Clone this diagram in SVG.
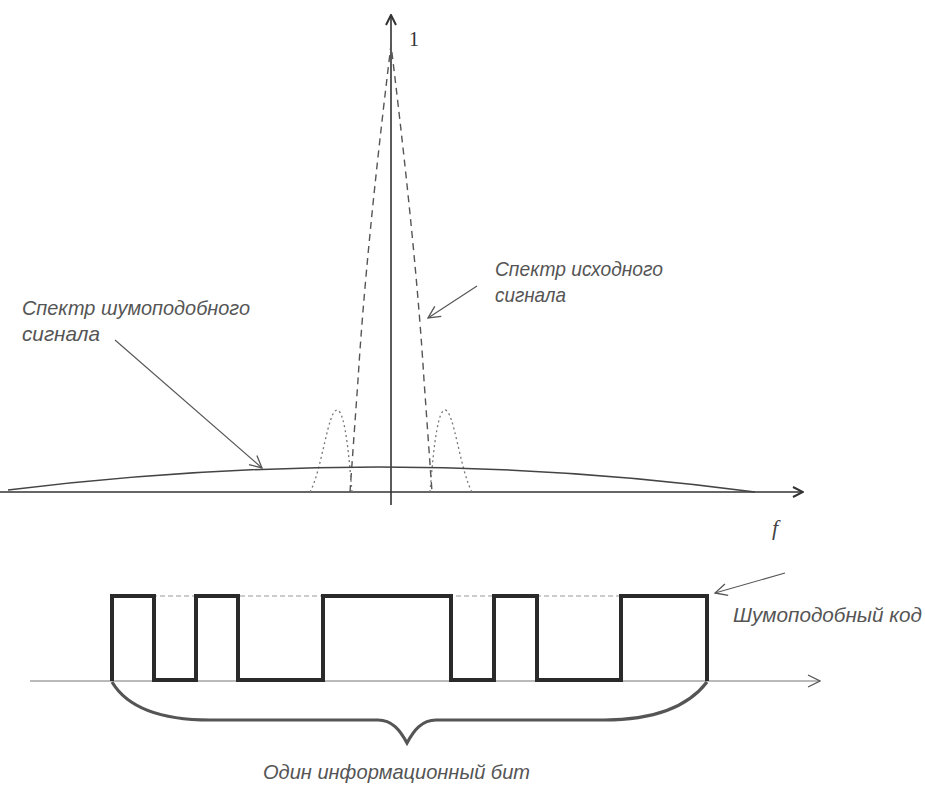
<svg xmlns="http://www.w3.org/2000/svg" width="925" height="785" viewBox="0 0 925 785">
<defs>
<style>
.axis{stroke:#333;stroke-width:1.6;fill:none}
.thin{stroke:#555;stroke-width:1.1;fill:none}
.lbl{font-family:"Liberation Sans",Arial,sans-serif;font-style:italic;font-size:21px;fill:#555}
.code{stroke:#2a2a2a;stroke-width:4;fill:none;stroke-linejoin:miter}
</style>
<marker id="chev" viewBox="0 0 12 12" refX="11" refY="6" markerWidth="12" markerHeight="12" markerUnits="userSpaceOnUse" orient="auto">
<path d="M1,1 L11,6 L1,11" fill="none" stroke="#333" stroke-width="2"/>
</marker>
<marker id="chevs" viewBox="0 0 14 14" refX="13" refY="7" markerWidth="14" markerHeight="14" markerUnits="userSpaceOnUse" orient="auto">
<path d="M1,1 L13,7 L1,13" fill="none" stroke="#555" stroke-width="1.3"/>
</marker>
</defs>
<rect width="925" height="785" fill="#fff"/>

<g id="spectrum-axes">
<line class="axis" x1="0" y1="492" x2="803" y2="492" marker-end="url(#chev)"/>
<line class="axis" x1="391" y1="505" x2="391" y2="15" marker-end="url(#chev)"/>
<text x="409" y="46" font-family="Liberation Serif,serif" font-size="20" fill="#333">1</text>
<text x="772" y="535" font-family="Liberation Serif,serif" font-style="italic" font-size="22" fill="#444">f</text>
</g>

<g id="original-spectrum">
<path d="M350,492 L358,380 Q366,250 391,45 Q416,250 424,380 L432,492" fill="none" stroke="#555" stroke-width="1.4" stroke-dasharray="7,5"/>
<path d="M310,492 C322,470 328,410 337,410 C346,410 350,470 352,492" fill="none" stroke="#777" stroke-width="1.3" stroke-dasharray="2,3"/>
<path d="M430,492 C432,470 436,410 445,410 C454,410 460,470 472,492" fill="none" stroke="#777" stroke-width="1.3" stroke-dasharray="2,3"/>
</g>

<g id="spread-spectrum">
<path d="M8,490 Q391,443 755,492" fill="none" stroke="#444" stroke-width="1.5"/>
</g>

<g id="label-spread">
<text class="lbl" x="22" y="315" textLength="228" lengthAdjust="spacingAndGlyphs">Спектр шумоподобного</text>
<text class="lbl" x="22" y="341" textLength="78" lengthAdjust="spacingAndGlyphs">сигнала</text>
</g>

<g id="label-original">
<text class="lbl" x="495" y="276" textLength="168" lengthAdjust="spacingAndGlyphs">Спектр исходного</text>
<text class="lbl" x="495" y="302" textLength="71" lengthAdjust="spacingAndGlyphs">сигнала</text>
</g>

<g id="code-axis">
<line x1="30" y1="681" x2="820" y2="681" stroke="#777" stroke-width="1.1" marker-end="url(#chevs)"/>
<line x1="112" y1="596" x2="707" y2="596" stroke="#999" stroke-width="1.1" stroke-dasharray="5,3"/>
</g>

<g id="pn-code">
<path class="code" d="M112,681 L112,596 L154,596 L154,680 L196,680 L196,596 L238,596 L238,680 L323,680 L323,596 L451,596 L451,680 L494,680 L494,596 L537,596 L537,680 L621,680 L621,596 L707,596 L707,681"/>
</g>

<g id="label-code">
<text class="lbl" x="733" y="622" textLength="189" lengthAdjust="spacingAndGlyphs">Шумоподобный код</text>
</g>

<g id="brace">
<path d="M112,682 C130,712 170,720 210,720 L378,720 C392,720 400,730 407,743 C414,730 422,720 436,720 L604,720 C644,720 684,712 707,682" fill="none" stroke="#555" stroke-width="3.2"/>
<text class="lbl" x="263" y="779" textLength="267" lengthAdjust="spacingAndGlyphs">Один информационный бит</text>
</g>

<g id="connectors">
<line class="thin" x1="115" y1="340" x2="262" y2="468" marker-end="url(#chevs)"/>
<line class="thin" x1="477" y1="286" x2="428" y2="318" marker-end="url(#chevs)"/>
<line class="thin" x1="785" y1="573" x2="715" y2="593" marker-end="url(#chevs)"/>
</g>
</svg>
